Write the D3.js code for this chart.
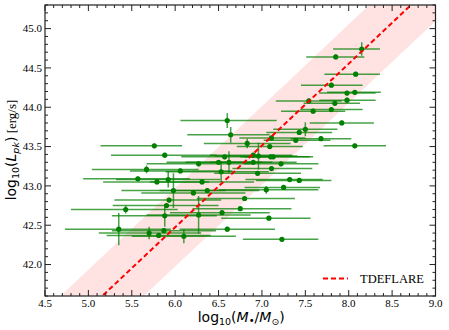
<!DOCTYPE html>
<html>
<head>
<meta charset="utf-8">
<script src="https://cdn.jsdelivr.net/npm/d3@7"></script>
<style>
  body { margin: 0; background: #fff; }
  svg { display: block; }
</style>
</head>
<body>
<svg id="chart" width="449" height="330"></svg>
<script>
// ---- data ----
const logMass  = [8.15,7.85,8.08,7.80,7.98,8.07,7.54,7.84,7.98,7.59,7.80,7.92,7.50,7.43,7.68,7.39,8.07,7.11,7.09,7.10,7.13,7.22,7.11,
                  6.64,6.83,6.57,6.90,6.96,6.50,6.62,6.27,6.90,6.53,6.95,6.31,7.05,7.25,6.37,6.21,6.80,6.27,6.75,6.54,7.08,6.60,7.23,
                  5.76,5.88,5.67,6.06,5.57,5.79,5.92,5.98,5.93,5.90,5.43,5.88,5.35,5.70,5.81,5.87,6.10,6.60,7.32,7.43];
const logLpk   = [44.74,44.64,44.42,44.28,44.18,44.19,44.08,44.05,44.09,43.95,43.97,43.80,43.72,43.68,43.60,43.58,43.51,43.61,43.50,43.37,43.37,43.28,43.22,
                  43.65,43.54,43.37,43.39,43.38,43.30,43.30,43.28,43.30,43.18,43.16,43.05,42.95,42.98,42.94,42.91,42.84,42.63,42.71,42.66,42.59,42.45,42.32,
                  43.51,43.39,43.21,43.19,43.09,43.05,43.08,42.94,42.82,42.75,42.70,42.62,42.45,42.40,42.37,42.43,42.36,43.83,43.08,43.07];
const massErrLo = [0.33,0.34,0.36,0.35,0.32,0.32,0.38,0.36,0.32,0.37,0.36,0.37,0.37,0.38,0.35,0.37,0.36,0.37,0.38,0.35,0.33,0.43,0.45,
                   0.50,0.50,0.50,0.50,0.50,0.60,0.50,0.60,0.50,0.64,0.50,0.60,0.55,0.45,0.55,0.60,0.55,0.60,0.55,0.60,0.55,0.55,0.45,
                   0.62,0.62,0.63,0.58,0.63,0.62,0.60,0.60,0.63,0.62,0.63,0.61,0.62,0.58,0.60,0.60,0.60,0.54,0.51,0.50];
const massErrHi = [0.21,0.33,0.28,0.36,0.33,0.30,0.38,0.29,0.33,0.37,0.36,0.37,0.37,0.38,0.35,0.40,0.36,0.39,0.38,0.49,0.42,0.43,0.47,
                   0.45,0.50,0.50,0.45,0.45,0.50,0.50,0.60,0.50,0.55,0.50,0.60,0.60,0.42,0.60,0.60,0.58,0.60,0.59,0.55,0.48,0.55,0.42,
                   0.32,0.60,0.60,0.60,0.60,0.60,0.60,0.60,0.60,0.60,0.60,0.60,0.60,0.60,0.60,0.60,0.60,0.57,0.38,0.37];
const lumErr    = [0.085,0.03,0.03,0.03,0.03,0.03,0.03,0.03,0.03,0.03,0.03,0.03,0.09,0.03,0.03,0.03,0.03,0.03,0.03,0.03,0.03,0.03,0.03,
                   0.10,0.06,0.03,0.03,0.17,0.03,0.14,0.03,0.03,0.13,0.03,0.03,0.05,0.03,0.03,0.03,0.03,0.24,0.03,0.03,0.03,0.03,0.03,
                   0.03,0.03,0.05,0.03,0.03,0.03,0.10,0.22,0.03,0.03,0.05,0.14,0.205,0.08,0.03,0.03,0.09,0.095,0.03,0.03];

// TDEFLARE relation: log L = slope * log M + intercept, band of +/- width dex
const fitSlope = 1.04;
const fitIntercept = 36.234;
const fitBand = 0.5;
const fitName = "TDEFLARE";

const xTicks = [4.5,5.0,5.5,6.0,6.5,7.0,7.5,8.0,8.5,9.0];
const yTicks = [42.0,42.5,43.0,43.5,44.0,44.5,45.0];

// ---- layout ----
const svg = d3.select("#chart");
const L = 45, R = 435.5, T = 5, B = 296;
const x = d3.scaleLinear().domain([4.5, 9.0]).range([L, R]);
const y = d3.scaleLinear().domain([41.6, 45.3]).range([B, T]);

svg.append("defs").append("clipPath").attr("id","clip")
  .append("rect").attr("x",L).attr("y",T).attr("width",R-L).attr("height",B-T);

const plot = svg.append("g").attr("clip-path","url(#clip)");

// band
const bandX = d3.range(4.0, 9.51, 0.5);
plot.append("path")
  .datum(bandX)
  .attr("d", d3.area()
     .x(d => x(d))
     .y0(d => y(fitSlope*d + fitIntercept - fitBand))
     .y1(d => y(fitSlope*d + fitIntercept + fitBand)))
  .attr("fill", "#ff0000").attr("fill-opacity", 0.11);

// error bars
const pts = logMass.map((m,i) => ({m, l: logLpk[i], lo: massErrLo[i], hi: massErrHi[i], ye: lumErr[i]}));
const gE = plot.append("g").attr("stroke","green").attr("stroke-opacity",0.72).attr("stroke-width",1.5);
gE.selectAll("line.h").data(pts).join("line").attr("class","h")
  .attr("x1", d => x(d.m - d.lo)).attr("x2", d => x(d.m + d.hi))
  .attr("y1", d => y(d.l)).attr("y2", d => y(d.l));
gE.selectAll("line.v").data(pts).join("line").attr("class","v")
  .attr("x1", d => x(d.m)).attr("x2", d => x(d.m))
  .attr("y1", d => y(d.l - d.ye)).attr("y2", d => y(d.l + d.ye));
plot.append("g").selectAll("circle").data(pts).join("circle")
  .attr("cx", d => x(d.m)).attr("cy", d => y(d.l)).attr("r", 2.6)
  .attr("fill", "green");

// fit line
const lineX = [4.5, 9.0];
plot.append("path").datum(lineX)
  .attr("d", d3.line().x(d => x(d)).y(d => y(fitSlope*d + fitIntercept)))
  .attr("stroke", "red").attr("stroke-width", 2).attr("stroke-dasharray", "5,3")
  .attr("fill", "none");

// ---- axes (inward ticks on all sides) ----
const xMinor = d3.range(45, 91).map(v => v/10);
const yMinor = d3.range(416, 454).map(v => v/10);
function isMajor(v, arr){ return arr.some(t => Math.abs(t - v) < 1e-6); }

const axG = svg.append("g").attr("stroke","#222").attr("stroke-width",1);
xMinor.forEach(v => {
  const len = isMajor(v, xTicks) ? 6 : 3;
  axG.append("line").attr("x1",x(v)).attr("x2",x(v)).attr("y1",B).attr("y2",B-len);
  axG.append("line").attr("x1",x(v)).attr("x2",x(v)).attr("y1",T).attr("y2",T+len);
});
yMinor.forEach(v => {
  const len = isMajor(v, yTicks) ? 6 : 3;
  axG.append("line").attr("y1",y(v)).attr("y2",y(v)).attr("x1",L).attr("x2",L+len);
  axG.append("line").attr("y1",y(v)).attr("y2",y(v)).attr("x1",R).attr("x2",R-len);
});
svg.append("rect").attr("x",L).attr("y",T).attr("width",R-L).attr("height",B-T)
  .attr("fill","none").attr("stroke","#222").attr("stroke-width",1.2);

const tickFont = "'Liberation Serif','Times New Roman',serif";
svg.append("g").selectAll("text").data(xTicks).join("text")
  .attr("x", d => x(d)).attr("y", B + 11)
  .attr("text-anchor","middle").attr("font-family",tickFont).attr("font-size",11)
  .text(d => d.toFixed(1));
svg.append("g").selectAll("text").data(yTicks).join("text")
  .attr("x", L - 3).attr("y", d => y(d) + 3.8)
  .attr("text-anchor","end").attr("font-family",tickFont).attr("font-size",11)
  .text(d => d.toFixed(1));

// x label
const sans = "'DejaVu Sans',sans-serif";
const xl = svg.append("text").attr("x", (L+R)/2 + 1).attr("y", 322)
  .attr("text-anchor","middle").attr("font-family",sans).attr("font-size",14);
xl.append("tspan").text("log");
xl.append("tspan").attr("font-size",9.5).attr("dy",3).text("10");
xl.append("tspan").attr("dy",-3).text("(");
xl.append("tspan").attr("font-style","italic").text("M");
xl.append("tspan").attr("font-size",10).attr("dy",2).text("\u2022");
xl.append("tspan").attr("dy",-2).text("/");
xl.append("tspan").attr("font-style","italic").text("M");
xl.append("tspan").attr("font-size",9.5).attr("dy",3).text("\u2299");
xl.append("tspan").attr("dy",-3).text(")");

// y label
const yl = svg.append("text").attr("transform","translate(16,150) rotate(-90)")
  .attr("text-anchor","middle").attr("font-family",sans).attr("font-size",14);
yl.append("tspan").text("log");
yl.append("tspan").attr("font-size",9.5).attr("dy",3).text("10");
yl.append("tspan").attr("dy",-3).text("(");
yl.append("tspan").attr("font-style","italic").text("L");
yl.append("tspan").attr("font-style","italic").attr("font-size",9.5).attr("dy",3).text("pk");
yl.append("tspan").attr("dy",-3).text(")");
yl.append("tspan").attr("font-family",tickFont).attr("font-size",13).text(" [erg/s]");

// legend
const lg = svg.append("g");
lg.append("line").attr("x1",323).attr("x2",348).attr("y1",278.5).attr("y2",278.5)
  .attr("stroke","red").attr("stroke-width",2).attr("stroke-dasharray","5,3");
lg.append("text").attr("x",360).attr("y",282.5).attr("font-family",tickFont).attr("font-size",12.5)
  .text(fitName);
</script>
</body>
</html>
